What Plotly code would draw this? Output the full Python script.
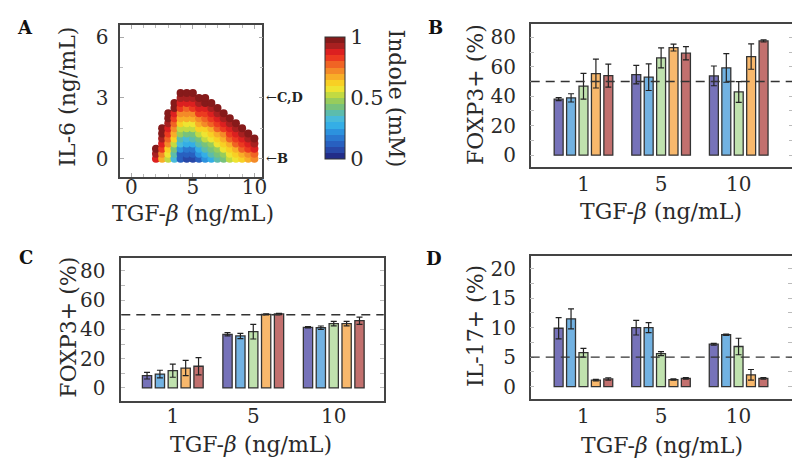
import plotly.graph_objects as go

# ---- panel A: indole map over (TGF-beta, IL-6) ----
TGF_LEVELS = [2, 2.5, 3, 3.5, 4, 4.5, 5, 5.5, 6, 6.5, 7, 7.5, 8, 8.5, 9, 9.5, 10]
IL6_LEVELS = [0, 0.25, 0.5, 0.75, 1, 1.25, 1.5, 1.75, 2, 2.25, 2.5, 2.75, 3, 3.25]
# indole (mM) per TGF column, from IL-6 = 0 upwards
INDOLE = [
    [0.85, 0.92, 1.0],
    [0.68, 0.74, 0.8, 0.85, 0.9, 0.95, 1.0],
    [0.52, 0.58, 0.64, 0.7, 0.76, 0.81, 0.86, 0.9, 0.95, 1.0],
    [0.3, 0.36, 0.44, 0.52, 0.6, 0.66, 0.72, 0.78, 0.84, 0.89, 0.95, 1.0],
    [0.1, 0.14, 0.21, 0.3, 0.38, 0.46, 0.54, 0.61, 0.68, 0.74, 0.81, 0.87, 0.93, 1.0],
    [0.06, 0.1, 0.17, 0.26, 0.34, 0.42, 0.5, 0.58, 0.65, 0.72, 0.79, 0.86, 0.93, 1.0],
    [0.07, 0.12, 0.19, 0.28, 0.36, 0.44, 0.52, 0.59, 0.66, 0.73, 0.8, 0.87, 0.94, 1.0],
    [0.14, 0.2, 0.28, 0.36, 0.44, 0.52, 0.6, 0.67, 0.74, 0.81, 0.88, 0.94, 1.0],
    [0.22, 0.28, 0.35, 0.43, 0.5, 0.57, 0.64, 0.7, 0.77, 0.83, 0.89, 0.95, 1.0],
    [0.28, 0.35, 0.42, 0.49, 0.56, 0.63, 0.69, 0.76, 0.82, 0.88, 0.94, 1.0],
    [0.35, 0.42, 0.49, 0.56, 0.62, 0.68, 0.75, 0.81, 0.87, 0.94, 1.0],
    [0.42, 0.48, 0.55, 0.61, 0.67, 0.74, 0.8, 0.87, 0.93, 1.0],
    [0.5, 0.56, 0.62, 0.68, 0.75, 0.81, 0.87, 0.94, 1.0],
    [0.57, 0.63, 0.69, 0.75, 0.82, 0.88, 0.94, 1.0],
    [0.63, 0.69, 0.75, 0.81, 0.87, 0.94, 1.0],
    [0.68, 0.74, 0.8, 0.87, 0.93, 1.0],
    [0.73, 0.79, 0.86, 0.93, 1.0],
]

# ---- panels B-D: bar data ----
GROUPS = ["1", "5", "10"]
BAR_COLORS = ["#7672b9", "#72b2e2", "#c0e2ae", "#f8b86c", "#c2706e"]

FOXP3_B = [[38, 54.7, 53.8], [38.9, 52.9, 59.2], [46.8, 66, 42.9], [55.4, 73, 66.9], [54, 69.2, 77.5]]
FOXP3_B_ERR = [[1, 6.3, 6.7], [2.8, 9, 9.7], [8.7, 6.8, 7], [9.8, 2.3, 8.6], [7.8, 4.5, 0.7]]

FOXP3_C = [[8.4, 36.6, 41.4], [9.5, 35.5, 41.1], [11.8, 38.4, 43.9], [13.6, 50.2, 43.9], [14.8, 50.5, 45.9]]
FOXP3_C_ERR = [[2.3, 1.1, 0.4], [2.6, 1.8, 1.2], [4.5, 5, 1.5], [5.2, 0.4, 1.5], [5.9, 0.4, 2.5]]

IL17_D = [[9.9, 10, 7.2], [11.5, 10, 8.8], [5.75, 5.6, 6.8], [1.1, 1.2, 2.0], [1.3, 1.4, 1.4]]
IL17_D_ERR = [[1.8, 1.25, 0.15], [1.7, 0.85, 0.1], [0.75, 0.35, 1.4], [0.12, 0.1, 0.9], [0.2, 0.12, 0.15]]

FONT = "DejaVu Serif"
INK = "#2a2a2a"

band_colors = ["#222c88", "#2848a8", "#2860c0", "#2a78d0", "#2c92de", "#34aee6", "#48bada",
               "#5cbcac", "#78c27c", "#98cc5c", "#c2da42", "#eee432", "#f8d024", "#f8ae28",
               "#f48a28", "#f06424", "#ec3a20", "#dc2020", "#a82020", "#861a1a"]
scale = []
for i, c in enumerate(band_colors):
    scale.append([i / len(band_colors), c])
    scale.append([(i + 1) / len(band_colors), c])

xs, ys, cs = [], [], []
for tgf, col in zip(TGF_LEVELS, INDOLE):
    for il6, v in zip(IL6_LEVELS, col):
        xs.append(tgf)
        ys.append(il6)
        cs.append(v)

fig = go.Figure()
fig.add_trace(go.Scatter(
    x=xs, y=ys, mode="markers", xaxis="x", yaxis="y", showlegend=False,
    marker=dict(size=8, color=cs, cmin=0, cmax=1, colorscale=scale,
                line=dict(width=0),
                colorbar=dict(x=319 / 800, xanchor="left", y=1 - 90 / 458, yanchor="middle",
                              thickness=20, thicknessmode="pixels", len=122, lenmode="pixels",
                              outlinewidth=1, outlinecolor="#333", tickvals=[0, 0.5, 1],
                              ticktext=["0", "0.5", "1"], ticks="", xpad=0, ypad=0,
                              tickfont=dict(family=FONT, size=21, color=INK))),
))

bar_sets = [(FOXP3_B, FOXP3_B_ERR, "x2", "y2"), (FOXP3_C, FOXP3_C_ERR, "x3", "y3"),
            (IL17_D, IL17_D_ERR, "x4", "y4")]
for vals, errs, xa, ya in bar_sets:
    for k in range(5):
        fig.add_trace(go.Bar(
            x=GROUPS, y=vals[k], xaxis=xa, yaxis=ya, showlegend=False,
            offsetgroup=str(k),
            marker=dict(color=BAR_COLORS[k], line=dict(color="#333", width=1.3)),
            error_y=dict(type="data", array=errs[k], color="#222", thickness=1.2, width=3),
        ))

box = dict(showline=True, linecolor="#444", linewidth=1.5, mirror="ticks", showgrid=False,
           zeroline=False, tickfont=dict(family=FONT, size=20, color=INK))

fig.update_layout(
    width=800, height=458, margin=dict(l=0, r=0, t=0, b=0),
    plot_bgcolor="white", paper_bgcolor="white",
    barmode="group", bargap=0.2, bargroupgap=0.28,
    font=dict(family=FONT, color=INK),
    xaxis=dict(box, domain=[113 / 800, 256 / 800], range=[-0.9, 10.65], anchor="y",
               tickvals=[0, 5, 10], ticks="inside", ticklen=4, tickcolor="#aaa",
               minor=dict(dtick=1, ticks="inside", ticklen=3, tickcolor="#bbb"),
               ticklabelstandoff=-9),
    yaxis=dict(box, domain=[1 - 169 / 458, 1 - 17 / 458], range=[-0.9, 6.6], anchor="x",
               tickvals=[0, 3, 6], ticks="inside", ticklen=4, tickcolor="#aaa",
               minor=dict(dtick=1.5, ticks="inside", ticklen=3, tickcolor="#bbb"),
               ticklabelstandoff=6),
    xaxis2=dict(box, domain=[526 / 800, 790 / 800], range=[-0.68, 2.7], anchor="y2",
                ticks="", ticklabelstandoff=-2),
    yaxis2=dict(box, domain=[1 - 159 / 458, 1 - 16 / 458], range=[-8, 89], anchor="x2",
                dtick=20, ticks="inside", ticklen=4, tickcolor="#bbb",
                minor=dict(dtick=10, ticks="inside", ticklen=4, tickcolor="#bbb"),
                ticklabelstandoff=9),
    xaxis3=dict(box, domain=[114 / 800, 378 / 800], range=[-0.64, 2.62], anchor="y3",
                ticks="", ticklabelstandoff=-3),
    yaxis3=dict(box, domain=[1 - 392.7 / 458, 1 - 250 / 458], range=[-8.7, 88.7], anchor="x3",
                dtick=20, ticks="inside", ticklen=4, tickcolor="#bbb",
                minor=dict(dtick=10, ticks="inside", ticklen=4, tickcolor="#bbb"),
                ticklabelstandoff=10),
    xaxis4=dict(box, domain=[526 / 800, 789 / 800], range=[-0.68, 2.69], anchor="y4",
                ticks="", ticklabelstandoff=-2),
    yaxis4=dict(box, domain=[1 - 391 / 458, 1 - 248.3 / 458], range=[-2.1, 22.1], anchor="x4",
                dtick=5, ticks="inside", ticklen=4, tickcolor="#bbb",
                minor=dict(dtick=2.5, ticks="inside", ticklen=4, tickcolor="#bbb"),
                ticklabelstandoff=9),
)

# threshold lines
for xa, ya, level in [("x2", "y2", 50), ("x3", "y3", 50), ("x4", "y4", 5)]:
    fig.add_shape(type="line", xref=f"{xa} domain", yref=ya, x0=0, x1=1, y0=level, y1=level,
                  line=dict(color="#333", width=1.4, dash="9px,6px"))

title_font = dict(family=FONT, size=22, color=INK)
tgf_title = "TGF-<i>β</i> (ng/mL)"
texts = [
    (186, 205, tgf_title, 0), (60, 89, "IL-6 (ng/mL)", -90),
    (657, 203, tgf_title, 0), (470, 87, "FOXP3+ (%)", -90),
    (245, 436, tgf_title, 0), (60, 319, "FOXP3+ (%)", -90),
    (658, 437, tgf_title, 0), (470, 318, "IL-17+ (%)", -90),
    (391, 90, "Indole (mM)", 90),
]
for px, py, txt, ang in texts:
    fig.add_annotation(x=px / 800, y=1 - py / 458, xref="paper", yref="paper", text=txt,
                       textangle=ang, showarrow=False, font=title_font,
                       xanchor="center", yanchor="middle")

for px, py, lab in [(17, 20, "A"), (430, 19, "B"), (18, 249, "C"), (429, 250, "D")]:
    fig.add_annotation(x=px / 800, y=1 - py / 458, xref="paper", yref="paper",
                       text=f"<b>{lab}</b>", showarrow=False,
                       font=dict(family=FONT, size=18, color="#111"),
                       xanchor="center", yanchor="middle")

# markers for the IL-6 levels used in B and C,D
for level, lab in [(3, "C,D"), (0, "B")]:
    fig.add_annotation(x=258 / 800, y=level, xref="paper", yref="y", text=f"←<b>{lab}</b>",
                       showarrow=False, font=dict(family=FONT, size=13, color="#222"),
                       xanchor="left", yanchor="middle")

fig.write_html("out.html")
